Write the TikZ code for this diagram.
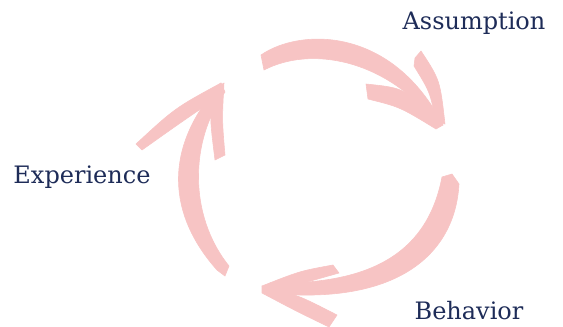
\documentclass[tikz,border=0pt]{standalone}
\usepackage{fontspec}
\setmainfont{DejaVu Serif}
\usepackage{tikz}
\usetikzlibrary{calc}
\definecolor{brushpink}{HTML}{F7C4C4}
\definecolor{inknavy}{HTML}{1E2C58}
\tikzset{
  brush/.style={fill=brushpink,draw=brushpink,line width=0.6pt,line join=round},
  label/.style={text=inknavy,font=\fontsize{24}{28}\selectfont,inner sep=0pt}
}

\begin{document}
\begin{tikzpicture}[x=1pt,y=-1pt]
\useasboundingbox (0,0) rectangle (563,327);
\node[label] (assumption) at (474,23) {Assumption};
\node[label] (behavior) at (469,311) {Behavior};
\node[label] (experience) at (82,177) {Experience};
\coordinate (t1) at (443,125);
\coordinate (t2) at (262,286);
\coordinate (t3) at (221,83);
% top arrow
\filldraw[brush] (261,55) .. controls (300,28) and (392,26) .. (t1)
  -- (437,124) .. controls (385,58) and (310,46) .. (264,70) -- cycle;
\filldraw[brush] (366,84) .. controls (405,88) .. (t1)
  -- (436,129) .. controls (400,107) .. (368,99) -- cycle;
\filldraw[brush] (415,58) -- (421,51) .. controls (440,80) .. (445,124)
  -- (436,122) .. controls (430,92) .. (414,66) -- cycle;
% right arrow
\filldraw[brush] (442,177) -- (452,174) -- (459,184)
  .. controls (455,256) and (395,306) .. (268,293)
  -- (270,283) .. controls (375,285) and (428,250) .. (442,177) -- cycle;
\filldraw[brush] (333,265) -- (339,273) .. controls (300,284) .. (268,293)
  -- (t2) .. controls (300,271) .. (333,265) -- cycle;
\filldraw[brush] (t2) .. controls (298,295) .. (337,315)
  -- (329,327) .. controls (296,311) .. (262,293) -- cycle;
% left arrow
\filldraw[brush] (217,270) .. controls (168,215) and (162,148) .. (t3)
  -- (225,92) .. controls (190,140) and (188,215) .. (229,266)
  -- (225,276) -- cycle;
\filldraw[brush] (136,144) .. controls (175,108) .. (t3)
  -- (224,93) .. controls (180,123) .. (142,150) -- cycle;
\filldraw[brush] (212,90) -- (224,83) .. controls (222,120) .. (225,155)
  -- (215,160) .. controls (210,120) .. (212,90) -- cycle;
\end{tikzpicture}
\end{document}
